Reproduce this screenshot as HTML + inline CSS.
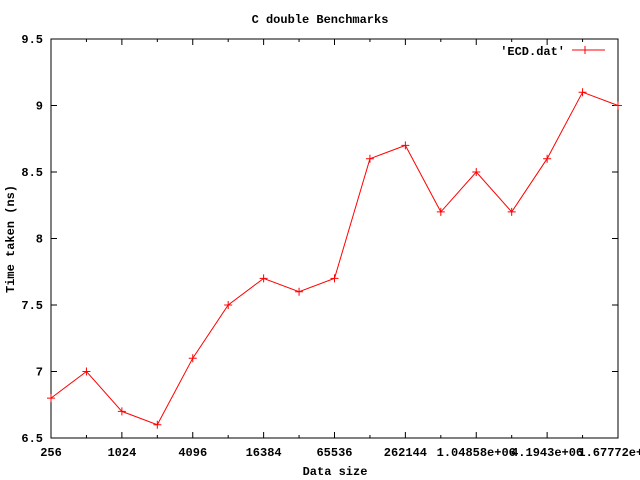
<!DOCTYPE html>
<html><head><meta charset="utf-8"><style>
html,body{margin:0;padding:0;background:#fff;width:640px;height:480px;overflow:hidden}
text{font-family:"Liberation Mono","DejaVu Sans Mono",monospace;font-weight:bold;font-size:12px;fill:#000}
</style></head><body>
<svg id="chart" width="640" height="480" xmlns="http://www.w3.org/2000/svg">
<text x="320" y="23" text-anchor="middle">C double Benchmarks</text>
<text transform="translate(14,239) rotate(-90)" text-anchor="middle">Time taken (ns)</text>
<text x="335" y="475" text-anchor="middle">Data size</text>
<g id="axes"></g>
<g id="series"></g>
<g>
<text x="565" y="55" text-anchor="end">'ECD.dat'</text>
<line x1="572" y1="50" x2="605" y2="50" stroke="#f00" stroke-width="1"/>
<path d="M585,46V54M581,50H589" stroke="#f00"/>
</g>
</svg>
<script>
const exponents=[8,9,10,11,12,13,14,15,16,17,18,19,20,21,22,23,24];
const times=[6.8,7.0,6.7,6.6,7.1,7.5,7.7,7.6,7.7,8.6,8.7,8.2,8.5,8.2,8.6,9.1,9.0];
const yTicks=[6.5,7,7.5,8,8.5,9,9.5];
const yTickLabels=["6.5","7","7.5","8","8.5","9","9.5"];
const xTickExps=[8,10,12,14,16,18,20,22,24];
const xTickLabels=["256","1024","4096","16384","65536","262144","1.04858e+06","4.1943e+06","1.67772e+07"];
const L=51,R=618,T=39,B=438;
const xs=e=>L+(e-8)/(24-8)*(R-L);
const ys=v=>B-(v-6.5)/3*(B-T);
const NS="http://www.w3.org/2000/svg";
const ax=document.getElementById('axes');
function mk(tag,attrs,parent){const el=document.createElementNS(NS,tag);for(const k in attrs)el.setAttribute(k,attrs[k]);parent.appendChild(el);return el;}
const fr=mk('rect',{x:L,y:T,width:R-L,height:B-T,fill:'none',stroke:'#000'},ax);


yTicks.forEach((v,i)=>{const y=ys(v);
const t=mk('path',{d:`M${L},${y}h6M${R},${y}h-6`,stroke:'#000'},ax);


const lb=mk('text',{x:L-8,y:y+4,'text-anchor':'end'},ax);lb.textContent=yTickLabels[i];

});
exponents.forEach(e=>{const x=xs(e);const major=e%2===0;const len=major?6:3;
const t=mk('path',{d:`M${x},${B}v-${len}M${x},${T}v${len}`,stroke:'#000'},ax);

});
xTickExps.forEach((e,i)=>{const lb=mk('text',{x:xs(e),y:456,'text-anchor':'middle'},ax);lb.textContent=xTickLabels[i];

});
const sg=document.getElementById('series');
const pts=exponents.map((e,i)=>xs(e)+','+ys(times[i])).join(' ');
const pl=mk('polyline',{points:pts,fill:'none',stroke:'#f00'},sg);


exponents.forEach((e,i)=>{const x=xs(e),y=ys(times[i]);
const m=mk('path',{d:`M${x},${y-4}v8M${x-4},${y}h8`,stroke:'#f00'},sg);

});
</script>
</body></html>
